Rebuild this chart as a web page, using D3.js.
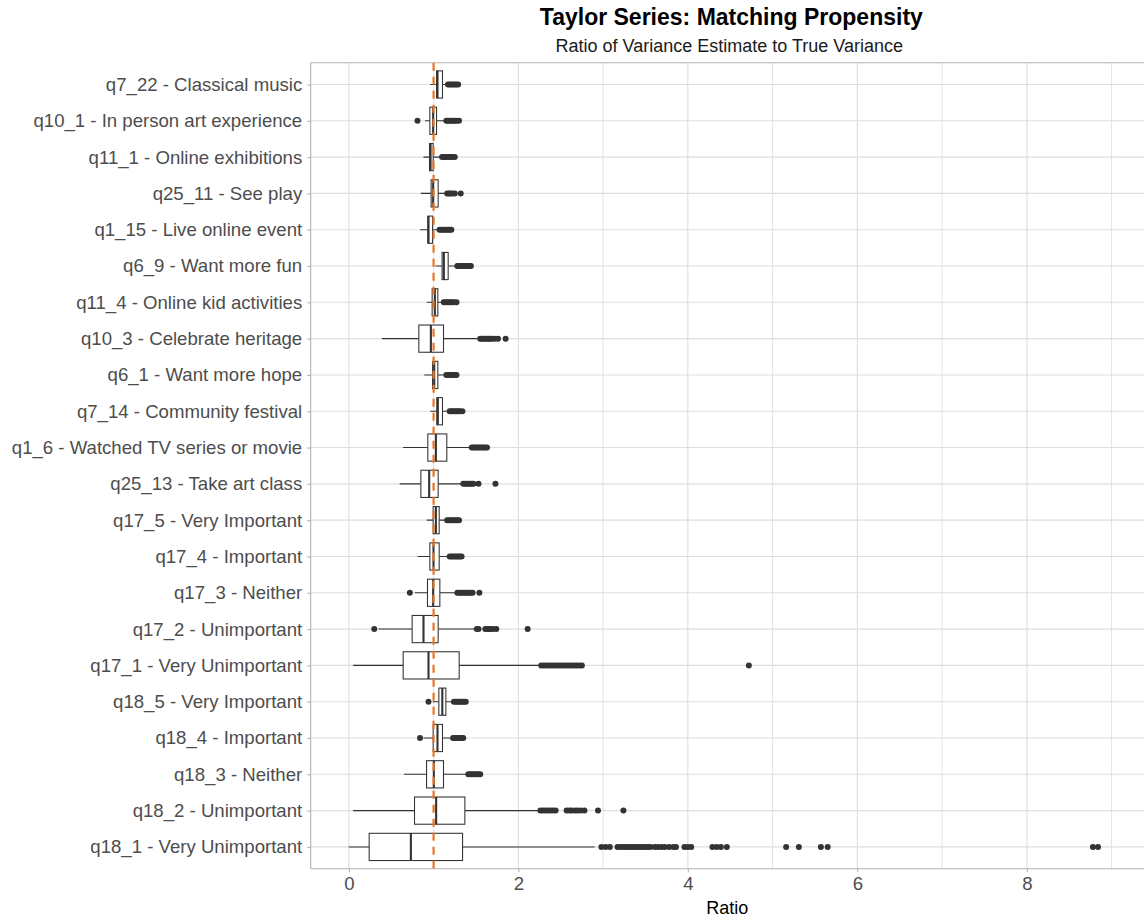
<!DOCTYPE html>
<html>
<head>
<meta charset="utf-8">
<script src="https://cdn.jsdelivr.net/npm/d3@7"></script>
<style>
  html, body { margin: 0; padding: 0; background: #ffffff; overflow: hidden; }
  svg { display: block; font-family: "Liberation Sans", Arial, sans-serif; }
</style>
</head>
<body>
<svg id="chart" width="1144" height="917"></svg>
<script>
// Items, top to bottom
const categories = [
  "q7_22 - Classical music",
  "q10_1 - In person art experience",
  "q11_1 - Online exhibitions",
  "q25_11 - See play",
  "q1_15 - Live online event",
  "q6_9 - Want more fun",
  "q11_4 - Online kid activities",
  "q10_3 - Celebrate heritage",
  "q6_1 - Want more hope",
  "q7_14 - Community festival",
  "q1_6 - Watched TV series or movie",
  "q25_13 - Take art class",
  "q17_5 - Very Important",
  "q17_4 - Important",
  "q17_3 - Neither",
  "q17_2 - Unimportant",
  "q17_1 - Very Unimportant",
  "q18_5 - Very Important",
  "q18_4 - Important",
  "q18_3 - Neither",
  "q18_2 - Unimportant",
  "q18_1 - Very Unimportant"
];

// Box-plot summaries of the variance ratio, one entry per item
const whiskerLow  = [0.96, 0.90, 0.88, 0.85, 0.84, 1.02, 0.92, 0.39, 0.89, 0.96, 0.64, 0.60, 0.92, 0.81, 0.78, 0.35, 0.05, 0.99, 0.88, 0.65, 0.05, 0.00];
const quartile1   = [1.035, 0.956, 0.952, 0.971, 0.932, 1.10, 0.983, 0.826, 0.988, 1.038, 0.932, 0.85, 0.995, 0.956, 0.928, 0.747, 0.641, 1.062, 0.995, 0.917, 0.775, 0.24];
const medians     = [1.046, 0.995, 0.964, 0.995, 0.94, 1.121, 1.015, 0.968, 1.007, 1.05, 1.027, 0.948, 1.027, 0.999, 0.995, 0.881, 0.94, 1.103, 1.046, 1.003, 1.03, 0.732];
const quartile3   = [1.105, 1.035, 0.995, 1.054, 0.988, 1.172, 1.05, 1.117, 1.05, 1.105, 1.156, 1.054, 1.066, 1.066, 1.074, 1.054, 1.302, 1.145, 1.105, 1.117, 1.369, 1.342];
const whiskerHigh = [1.15, 1.14, 1.09, 1.15, 1.07, 1.27, 1.11, 1.52, 1.14, 1.18, 1.45, 1.35, 1.15, 1.18, 1.28, 1.49, 2.25, 1.23, 1.22, 1.41, 2.25, 2.90];

const outliers = [
  [1.17, 1.19, 1.21, 1.23, 1.25, 1.27, 1.29],
  [0.81, 1.15, 1.17, 1.19, 1.21, 1.23, 1.25, 1.27, 1.30],
  [1.10, 1.12, 1.14, 1.16, 1.18, 1.20, 1.22, 1.25],
  [1.16, 1.18, 1.20, 1.22, 1.25, 1.32],
  [1.07, 1.09, 1.11, 1.13, 1.15, 1.17, 1.19, 1.21],
  [1.28, 1.30, 1.32, 1.34, 1.36, 1.38, 1.40, 1.42, 1.44],
  [1.12, 1.14, 1.16, 1.18, 1.20, 1.22, 1.24, 1.27],
  [1.55, 1.57, 1.59, 1.61, 1.63, 1.65, 1.67, 1.69, 1.72, 1.76, 1.85],
  [1.15, 1.17, 1.19, 1.21, 1.23, 1.25, 1.27],
  [1.19, 1.21, 1.23, 1.25, 1.27, 1.29, 1.31, 1.34],
  [1.45, 1.47, 1.49, 1.51, 1.53, 1.55, 1.57, 1.59, 1.61, 1.63],
  [1.35, 1.37, 1.39, 1.41, 1.43, 1.45, 1.47, 1.53, 1.73],
  [1.16, 1.18, 1.20, 1.22, 1.24, 1.26, 1.28, 1.30],
  [1.19, 1.21, 1.23, 1.25, 1.27, 1.29, 1.31, 1.33],
  [0.72, 1.28, 1.30, 1.32, 1.34, 1.36, 1.38, 1.40, 1.42, 1.44, 1.46, 1.54],
  [0.30, 1.51, 1.53, 1.61, 1.63, 1.65, 1.67, 1.70, 1.74, 2.11],
  [2.27, 2.30, 2.33, 2.36, 2.39, 2.42, 2.45, 2.48, 2.51, 2.54, 2.57, 2.60, 2.63, 2.66, 2.69, 2.72, 2.75, 4.72],
  [0.94, 1.24, 1.26, 1.28, 1.30, 1.32, 1.34, 1.36, 1.38],
  [0.84, 1.23, 1.25, 1.27, 1.29, 1.31, 1.33, 1.35],
  [1.41, 1.43, 1.45, 1.47, 1.49, 1.51, 1.53, 1.55],
  [2.26, 2.29, 2.32, 2.35, 2.38, 2.41, 2.44, 2.57, 2.60, 2.63, 2.67, 2.70, 2.74, 2.78, 2.94, 3.24],
  [2.98, 3.03, 3.08, 3.17, 3.20, 3.23, 3.26, 3.29, 3.32, 3.35, 3.38, 3.41, 3.44, 3.47, 3.50, 3.53, 3.56,
   3.61, 3.65, 3.69, 3.73, 3.78, 3.83, 3.86, 3.96, 4.00, 4.04, 4.29, 4.34, 4.39, 4.46, 5.16, 5.31, 5.57, 5.65, 8.78, 8.84]
];

const referenceRatio = 1;
const xTicks = [0, 2, 4, 6, 8];
const xMinorTicks = [1, 3, 5, 7, 9];

const titleText = "Taylor Series: Matching Propensity";
const subtitleText = "Ratio of Variance Estimate to True Variance";
const xAxisTitle = "Ratio";

// ---- layout ----
const W = 1144, H = 917;
const panel = { left: 310.7, top: 62.7, bottom: 868.7 };
const unitPx = 84.75;
const xLimits = [-0.45, 9.75];
const fontStack = "'Liberation Sans', Arial, sans-serif";

const svg = d3.select("#chart");

const x = d3.scaleLinear()
  .domain(xLimits)
  .range([panel.left, panel.left + (xLimits[1] - xLimits[0]) * unitPx]);

const y = d3.scalePoint()
  .domain(categories)
  .range([panel.top, panel.bottom])
  .padding(0.6);

const boxH = y.step() * 0.75;
const panelRight = x.range()[1];

svg.append("defs").append("clipPath").attr("id", "panelClip")
  .append("rect")
  .attr("x", panel.left).attr("y", panel.top)
  .attr("width", panelRight - panel.left).attr("height", panel.bottom - panel.top);

const gridG = svg.append("g").attr("clip-path", "url(#panelClip)");

// minor vertical grid
gridG.selectAll("line.minor").data(xMinorTicks).join("line")
  .attr("class", "minor")
  .attr("x1", d => x(d)).attr("x2", d => x(d))
  .attr("y1", panel.top).attr("y2", panel.bottom)
  .attr("stroke", "#e3e3e3").attr("stroke-width", 1);

// major vertical grid
gridG.selectAll("line.major").data(xTicks).join("line")
  .attr("class", "major")
  .attr("x1", d => x(d)).attr("x2", d => x(d))
  .attr("y1", panel.top).attr("y2", panel.bottom)
  .attr("stroke", "#dedede").attr("stroke-width", 1.1);

// horizontal grid, one per item
gridG.selectAll("line.hgrid").data(categories).join("line")
  .attr("class", "hgrid")
  .attr("x1", panel.left).attr("x2", panelRight)
  .attr("y1", d => y(d)).attr("y2", d => y(d))
  .attr("stroke", "#dedede").attr("stroke-width", 1.1);

// panel border (left, top, bottom; the right side runs past the frame)
svg.append("path")
  .attr("d", `M${panelRight},${panel.top}H${panel.left}V${panel.bottom}H${panelRight}`)
  .attr("fill", "none").attr("stroke", "#b3b3b3").attr("stroke-width", 1.1);

// ---- box plots ----
const rows = categories.map((c, i) => ({
  cat: c, lo: whiskerLow[i], q1: quartile1[i], med: medians[i],
  q3: quartile3[i], hi: whiskerHigh[i], out: outliers[i]
}));

const boxG = svg.append("g").attr("clip-path", "url(#panelClip)");
const ink = "#333333";

const rowG = boxG.selectAll("g.row").data(rows).join("g").attr("class", "row");

// whiskers
rowG.append("line")
  .attr("x1", d => x(d.lo)).attr("x2", d => x(d.q1))
  .attr("y1", d => y(d.cat)).attr("y2", d => y(d.cat))
  .attr("stroke", ink).attr("stroke-width", 1.07);
rowG.append("line")
  .attr("x1", d => x(d.q3)).attr("x2", d => x(d.hi))
  .attr("y1", d => y(d.cat)).attr("y2", d => y(d.cat))
  .attr("stroke", ink).attr("stroke-width", 1.07);

// boxes
rowG.append("rect")
  .attr("x", d => x(d.q1))
  .attr("y", d => y(d.cat) - boxH / 2)
  .attr("width", d => x(d.q3) - x(d.q1))
  .attr("height", boxH)
  .attr("fill", "#ffffff").attr("stroke", ink).attr("stroke-width", 1.07);

// medians
rowG.append("line")
  .attr("x1", d => x(d.med)).attr("x2", d => x(d.med))
  .attr("y1", d => y(d.cat) - boxH / 2).attr("y2", d => y(d.cat) + boxH / 2)
  .attr("stroke", ink).attr("stroke-width", 2.1);

// outlying points
rowG.selectAll("circle").data(d => d.out.map(v => ({ v, cat: d.cat }))).join("circle")
  .attr("cx", d => x(d.v)).attr("cy", d => y(d.cat))
  .attr("r", 3).attr("fill", ink);

// reference line at ratio 1
boxG.append("line")
  .attr("x1", x(referenceRatio)).attr("x2", x(referenceRatio))
  .attr("y1", panel.top).attr("y2", panel.bottom)
  .attr("stroke", "#e8742a").attr("stroke-width", 2.2)
  .attr("stroke-dasharray", "8,6");

// ---- axes ----
const axisColor = "#4d4d4d";

const yAxisG = svg.append("g").attr("transform", `translate(${panel.left},0)`)
  .call(d3.axisLeft(y).tickSize(3.5).tickPadding(5));
yAxisG.select(".domain").remove();
yAxisG.selectAll(".tick line").attr("stroke", "#b3b3b3").attr("stroke-width", 1.1);
yAxisG.selectAll(".tick text")
  .attr("fill", axisColor).attr("font-size", "18.6px")
  .attr("font-family", fontStack);

const xAxisG = svg.append("g").attr("transform", `translate(0,${panel.bottom})`)
  .call(d3.axisBottom(x).tickValues(xTicks).tickSize(3.5).tickPadding(5).tickFormat(d3.format("d")));
xAxisG.select(".domain").remove();
xAxisG.selectAll(".tick line").attr("stroke", "#b3b3b3").attr("stroke-width", 1.1);
xAxisG.selectAll(".tick text")
  .attr("fill", axisColor).attr("font-size", "18.6px")
  .attr("font-family", fontStack);

// ---- titles ----
const centerX = (panel.left + W) / 2;

svg.append("text")
  .attr("x", centerX + 4).attr("y", 25)
  .attr("text-anchor", "middle")
  .attr("font-size", "23px").attr("font-weight", "bold").attr("fill", "#000")
  .text(titleText);

svg.append("text")
  .attr("x", centerX + 2).attr("y", 52)
  .attr("text-anchor", "middle")
  .attr("font-size", "18px").attr("fill", "#1a1a1a")
  .text(subtitleText);

svg.append("text")
  .attr("x", centerX).attr("y", 914)
  .attr("text-anchor", "middle")
  .attr("font-size", "18px").attr("fill", "#000")
  .text(xAxisTitle);
</script>
</body>
</html>
